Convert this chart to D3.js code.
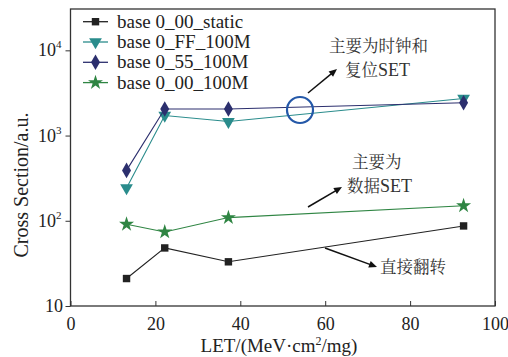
<!DOCTYPE html>
<html>
<head>
<meta charset="utf-8">
<script src="https://cdn.jsdelivr.net/npm/d3@7/dist/d3.min.js"></script>
</head>
<body style="margin:0; background:#fff">
<div id="container"></div>
<script>
const SERIF = '"Liberation Serif"';
const CJK = '"Noto Serif CJK SC"';

// LET values shared by all series
const letValues = [13.2, 22.2, 37.2, 92.6];

const seriesNames = ["base 0_00_static", "base 0_FF_100M", "base 0_55_100M", "base 0_00_100M"];
const staticValues = [21, 48, 33, 87];
const ff100Values = [243, 1720, 1460, 2720];
const s55Values = [390, 2050, 2050, 2430];
const z100Values = [91, 74, 109, 150];

const xTicks = [0, 20, 40, 60, 80, 100];
const yTicks = [10, 100, 1000, 10000];

const margin = { left: 70.5, right: 13, top: 9, bottom: 51 };
const width = 508 - margin.left - margin.right;
const height = 357 - margin.top - margin.bottom;

const x = d3.scaleLinear().domain([0, 100]).range([0, width]);
const y = d3.scaleLog().domain([10, Math.pow(10, 4.485)]).range([height, 0]);

const svg = d3.select("#container").append("svg")
    .attr("width", 508)
    .attr("height", 357);

const g = svg.append("g")
    .attr("transform", `translate(${margin.left},${margin.top})`);

// frame
g.append("rect")
    .attr("width", width).attr("height", height)
    .attr("fill", "none").attr("stroke", "#333").attr("stroke-width", 1.3);

// x axis (ticks inward)
const xAxis = g.append("g")
    .attr("transform", `translate(0,${height})`)
    .call(d3.axisBottom(x).tickValues(xTicks).tickSizeInner(-5).tickSizeOuter(0).tickPadding(11));
xAxis.attr("font-family", null);
xAxis.select(".domain").remove();
xAxis.selectAll("line").attr("stroke", "#333");
xAxis.selectAll("text")
    .style("font-family", SERIF)
    .attr("font-size", 18).attr("fill", "#222");

// y axis (ticks outward)
const yAxis = g.append("g")
    .call(d3.axisLeft(y).tickValues(yTicks).tickFormat(() => "").tickSizeInner(5).tickSizeOuter(0));
yAxis.select(".domain").remove();
yAxis.selectAll("line").attr("stroke", "#333");

yTicks.forEach(v => {
    const t = g.append("text")
        .style("font-family", SERIF)
        .attr("x", v === 10 ? -7.5 : -9)
        .attr("y", y(v) + 6)
        .attr("text-anchor", "end")
        .attr("font-size", 18)
        .attr("fill", "#222")
        .text("10");
    if (v !== 10) {
        t.append("tspan").attr("dy", -8).attr("font-size", 11).text(Math.log10(v));
    }
});

// axis titles
svg.append("text")
    .style("font-family", SERIF)
    .attr("x", 279)
    .attr("y", 352)
    .attr("text-anchor", "middle")
    .attr("font-size", 19)
    .attr("fill", "#222")
    .text("LET/(MeV·cm")
    .call(t => {
        t.append("tspan").attr("dy", -7).attr("font-size", 12).text("2");
        t.append("tspan").attr("dy", 7).text("/mg)");
    });

svg.append("text")
    .style("font-family", SERIF)
    .attr("transform", `translate(28,185) rotate(-90)`)
    .attr("text-anchor", "middle")
    .attr("font-size", 20)
    .attr("fill", "#222")
    .text("Cross Section/a.u.");

const series = [
    { name: seriesNames[0], values: staticValues, color: "#222222", symbol: d3.symbolSquare, size: 55, rot: 0 },
    { name: seriesNames[1], values: ff100Values, color: "#2a8c8c", symbol: d3.symbolTriangle, size: 70, rot: 180 },
    { name: seriesNames[2], values: s55Values, color: "#2c2f6e", symbol: d3.symbolDiamond, size: 70, rot: 0 },
    { name: seriesNames[3], values: z100Values, color: "#2f8543", symbol: d3.symbolStar, size: 70, rot: 0 }
];

const line = d3.line().x(d => x(d[0])).y(d => y(d[1]));

// draw order: green, black, teal, navy
[3, 0, 1, 2].forEach(i => {
    const s = series[i];
    const pts = letValues.map((l, j) => [l, s.values[j]]);
    g.append("path")
        .attr("d", line(pts))
        .attr("fill", "none")
        .attr("stroke", s.color)
        .attr("stroke-width", 1.1);
    g.selectAll(null).data(pts).join("path")
        .attr("d", d3.symbol().type(s.symbol).size(s.size))
        .attr("transform", d => `translate(${x(d[0])},${y(d[1])}) rotate(${s.rot})`)
        .attr("fill", s.color);
});

// legend
const legend = svg.append("g").attr("transform", "translate(83,21.7)");
series.forEach((s, i) => {
    const row = legend.append("g").attr("transform", `translate(0,${i * 20.3})`);
    row.append("line").attr("x1", 0).attr("x2", 25).attr("stroke", s.color).attr("stroke-width", 1.3);
    row.append("path")
        .attr("d", d3.symbol().type(s.symbol).size(s.size))
        .attr("transform", `translate(12.5,0) rotate(${s.rot})`)
        .attr("fill", s.color);
    row.append("text")
        .style("font-family", SERIF)
        .attr("x", 34).attr("y", 6)
        .attr("font-size", 19)
        .attr("fill", "#222")
        .text(s.name);
});

// annotations
function arrow(x1, y1, x2, y2) {
    const a = Math.atan2(y2 - y1, x2 - x1);
    svg.append("line").attr("x1", x1).attr("y1", y1).attr("x2", x2 - 4 * Math.cos(a)).attr("y2", y2 - 4 * Math.sin(a))
        .attr("stroke", "#111").attr("stroke-width", 1.5);
    const hl = 8, hw = 3.5;
    const bx = x2 - hl * Math.cos(a), by = y2 - hl * Math.sin(a);
    svg.append("path")
        .attr("d", `M${x2},${y2}L${bx + hw * Math.sin(a)},${by - hw * Math.cos(a)}L${bx - hw * Math.sin(a)},${by + hw * Math.cos(a)}Z`)
        .attr("fill", "#111");
}

svg.append("circle").attr("cx", 300).attr("cy", 110).attr("r", 13)
    .attr("fill", "none").attr("stroke", "#2458a8").attr("stroke-width", 2.2);
arrow(308, 93, 337, 69);
arrow(308, 207, 342, 187);
arrow(325, 248, 377, 267);

function label(tx, ty, parts) {
    const t = svg.append("text").attr("x", tx).attr("y", ty).attr("font-size", 16.5).attr("fill", "#333");
    parts.forEach(p => {
        t.append("tspan")
            .style("font-family", p[1] ? CJK : SERIF)
            .attr("font-size", p[1] ? 16.5 : 18)
            .text(p[0]);
    });
}
label(329, 52, [["主要为时钟和", true]]);
label(345, 76, [["复位", true], ["SET", false]]);
label(352, 168, [["主要为", true]]);
label(347, 192, [["数据", true], ["SET", false]]);
label(380, 273, [["直接翻转", true]]);

// force layout so the local fonts get resolved before the picture is taken
svg.selectAll("text").each(function () { this.getComputedTextLength(); });
</script>
</body>
</html>
